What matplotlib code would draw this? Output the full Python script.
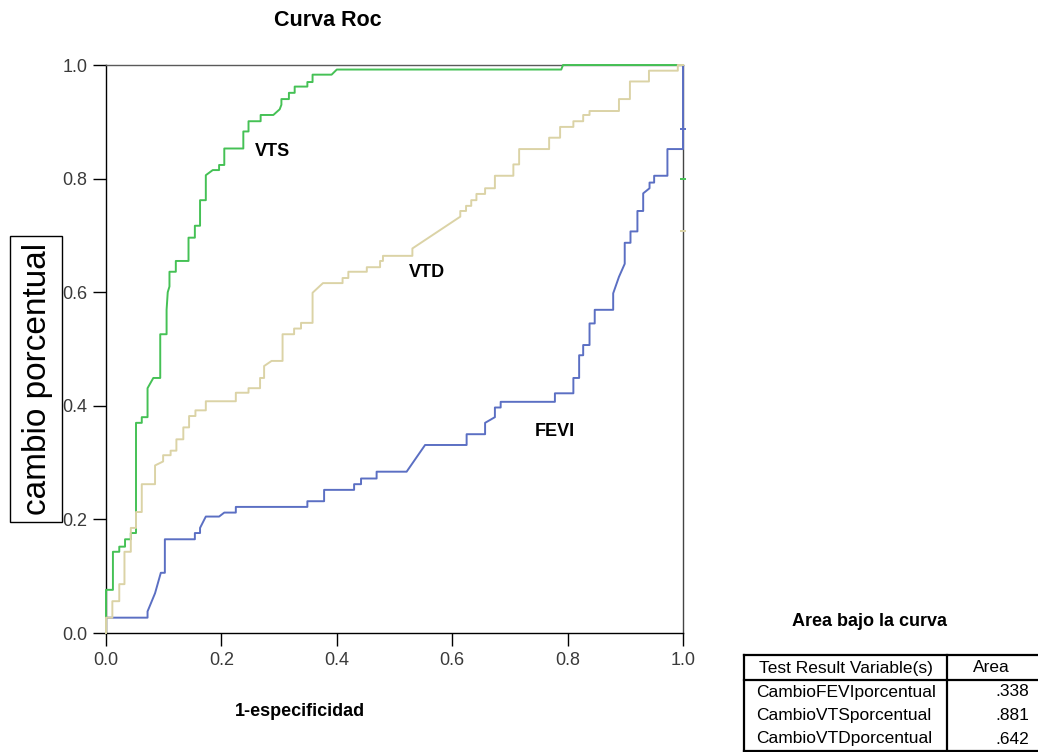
import matplotlib.pyplot as plt
from matplotlib.lines import Line2D
from matplotlib.patches import Rectangle

plt.rcParams['font.family'] = ['Liberation Sans', 'DejaVu Sans']

W, H = 1038, 752

# curvas ROC (1-especificidad, sensibilidad)
fevi_x = [0.0, 0.0, 0.072, 0.072, 0.085, 0.095, 0.102, 0.102, 0.154, 0.154, 0.163, 0.163,
          0.173, 0.196, 0.205, 0.225, 0.225, 0.349, 0.349, 0.378, 0.378, 0.430, 0.430,
          0.442, 0.442, 0.469, 0.469, 0.521, 0.553, 0.625, 0.625, 0.657, 0.657, 0.674,
          0.674, 0.684, 0.684, 0.778, 0.778, 0.810, 0.810, 0.820, 0.820, 0.827, 0.827,
          0.838, 0.838, 0.847, 0.847, 0.879, 0.879, 0.889, 0.899, 0.899, 0.909, 0.909,
          0.921, 0.921, 0.931, 0.931, 0.942, 0.942, 0.950, 0.950, 0.973, 0.973, 1.0, 1.0]
fevi_y = [0.0, 0.027, 0.027, 0.038, 0.070, 0.106, 0.106, 0.165, 0.165, 0.176, 0.176, 0.185,
          0.205, 0.205, 0.212, 0.212, 0.222, 0.222, 0.232, 0.232, 0.252, 0.252, 0.262,
          0.262, 0.272, 0.272, 0.284, 0.284, 0.331, 0.331, 0.350, 0.350, 0.370, 0.380,
          0.397, 0.397, 0.407, 0.407, 0.422, 0.422, 0.449, 0.449, 0.489, 0.489, 0.507,
          0.507, 0.545, 0.545, 0.569, 0.569, 0.598, 0.627, 0.650, 0.687, 0.687, 0.707,
          0.707, 0.743, 0.743, 0.774, 0.783, 0.793, 0.793, 0.805, 0.805, 0.852, 0.852, 1.0]

vts_x = [0.0, 0.0, 0.012, 0.012, 0.023, 0.023, 0.033, 0.033, 0.043, 0.043, 0.052, 0.052,
         0.062, 0.062, 0.072, 0.072, 0.082, 0.094, 0.094, 0.105, 0.105, 0.107, 0.110, 0.110,
         0.121, 0.121, 0.143, 0.143, 0.154, 0.154, 0.163, 0.163, 0.173, 0.173, 0.185, 0.196,
         0.196, 0.205, 0.205, 0.238, 0.238, 0.247, 0.247, 0.268, 0.268, 0.290, 0.301, 0.304,
         0.304, 0.317, 0.317, 0.327, 0.327, 0.349, 0.349, 0.358, 0.358, 0.391, 0.400, 0.789,
         0.792, 1.0]
vts_y = [0.0, 0.076, 0.076, 0.143, 0.143, 0.152, 0.152, 0.165, 0.165, 0.176, 0.176, 0.370,
         0.370, 0.380, 0.380, 0.431, 0.449, 0.449, 0.526, 0.526, 0.569, 0.600, 0.610, 0.636,
         0.636, 0.655, 0.655, 0.696, 0.696, 0.717, 0.717, 0.762, 0.762, 0.806, 0.815, 0.815,
         0.824, 0.824, 0.853, 0.853, 0.883, 0.883, 0.901, 0.901, 0.912, 0.912, 0.922, 0.930,
         0.940, 0.940, 0.951, 0.951, 0.962, 0.962, 0.970, 0.970, 0.983, 0.983, 0.992, 0.992,
         1.0, 1.0]

vtd_x = [0.0, 0.0, 0.011, 0.011, 0.023, 0.023, 0.032, 0.032, 0.043, 0.043, 0.052, 0.052,
         0.062, 0.062, 0.085, 0.085, 0.099, 0.099, 0.112, 0.112, 0.122, 0.122, 0.134, 0.134,
         0.144, 0.144, 0.155, 0.155, 0.173, 0.173, 0.225, 0.225, 0.247, 0.247, 0.267, 0.267,
         0.274, 0.274, 0.287, 0.306, 0.306, 0.326, 0.326, 0.338, 0.338, 0.358, 0.358, 0.376,
         0.410, 0.410, 0.420, 0.420, 0.452, 0.452, 0.475, 0.475, 0.480, 0.480, 0.531, 0.531,
         0.614, 0.614, 0.624, 0.624, 0.633, 0.633, 0.642, 0.642, 0.657, 0.657, 0.674, 0.674,
         0.706, 0.706, 0.716, 0.716, 0.768, 0.768, 0.787, 0.787, 0.810, 0.810, 0.827, 0.827,
         0.838, 0.838, 0.889, 0.889, 0.908, 0.908, 0.941, 0.941, 0.991, 0.991, 1.0]
vtd_y = [0.0, 0.027, 0.027, 0.056, 0.056, 0.086, 0.086, 0.143, 0.143, 0.185, 0.185, 0.213,
         0.213, 0.262, 0.262, 0.295, 0.302, 0.313, 0.313, 0.321, 0.321, 0.341, 0.341, 0.362,
         0.362, 0.382, 0.382, 0.392, 0.392, 0.408, 0.408, 0.423, 0.423, 0.431, 0.431, 0.449,
         0.449, 0.470, 0.479, 0.479, 0.526, 0.526, 0.536, 0.536, 0.546, 0.546, 0.599, 0.616,
         0.616, 0.625, 0.625, 0.636, 0.636, 0.644, 0.644, 0.655, 0.655, 0.664, 0.664, 0.677,
         0.733, 0.743, 0.743, 0.752, 0.752, 0.762, 0.762, 0.773, 0.773, 0.783, 0.783, 0.805,
         0.805, 0.825, 0.825, 0.852, 0.852, 0.872, 0.872, 0.891, 0.891, 0.901, 0.901, 0.912,
         0.912, 0.919, 0.919, 0.940, 0.940, 0.971, 0.971, 0.990, 0.990, 1.0, 1.0]

# marcas sueltas en el borde derecho
edge_y = [0.887, 0.800, 0.707]

table_vars = ['CambioFEVIporcentual', 'CambioVTSporcentual', 'CambioVTDporcentual']
table_area = ['.338', '.881', '.642']

c_fevi = '#5b6fc3'
c_vts = '#45c155'
c_vtd = '#dbd3a6'


def fx(px):
    return px / W


def fy(py):
    return 1 - py / H


fig = plt.figure(figsize=(W / 100, H / 100), dpi=100)
ax = fig.add_axes([fx(106), fy(633), 577 / W, 568 / H])

lw = 1.4
ax.plot(fevi_x, fevi_y, color=c_fevi, lw=lw, clip_on=False, zorder=3)
ax.plot(vts_x, vts_y, color=c_vts, lw=lw, clip_on=False, zorder=3)
ax.plot(vtd_x, vtd_y, color=c_vtd, lw=lw, clip_on=False, zorder=3)
for yv, c in zip(edge_y, [c_fevi, c_vts, c_vtd]):
    ax.plot([1.0], [yv], marker='_', ms=5, mew=1.4, color=c, clip_on=False, zorder=4)

ax.text(0.288, 0.847, 'VTS', fontsize=13, fontweight='bold', ha='center', va='center')
ax.text(0.556, 0.634, 'VTD', fontsize=13, fontweight='bold', ha='center', va='center')
ax.text(0.778, 0.354, 'FEVI', fontsize=13, fontweight='bold', ha='center', va='center')

ax.set_xlim(0, 1)
ax.set_ylim(0, 1)
ticks = [0.0, 0.2, 0.4, 0.6, 0.8, 1.0]
ax.set_xticks(ticks)
ax.set_yticks(ticks)
ax.set_xticklabels([f'{t:.1f}' for t in ticks])
ax.set_yticklabels([f'{t:.1f}' for t in ticks])
ax.tick_params(direction='out', length=9.5, width=1.0, labelsize=13,
               labelcolor='#3a3a3a', pad=4)
for s in ['left', 'bottom']:
    ax.spines[s].set_color('black')
ax.spines['top'].set_color('#5a5a5a')
ax.spines['right'].set_color('#444444')
for s in ax.spines.values():
    s.set_linewidth(1.0)

fig.text(fx(328), fy(20), 'Curva Roc', fontsize=15.5, fontweight='bold', ha='center', va='center')
fig.text(fx(300), fy(712), '1-especificidad', fontsize=13, fontweight='bold',
         ha='center', va='center')

# caja del titulo del eje y (tapa parte de las etiquetas)
fig.add_artist(Rectangle((fx(10), fy(522)), 52 / W, 286 / H, transform=fig.transFigure,
                         fc='white', ec='black', lw=1.0, zorder=5))
fig.text(fx(38), fy(379), 'cambio porcentual', fontsize=24, rotation=90,
         ha='center', va='center', zorder=6)

# tabla "Area bajo la curva"
fig.text(fx(870), fy(622), 'Area bajo la curva', fontsize=13, fontweight='bold',
         ha='center', va='center')
t_left, t_right, t_top, t_head, t_bot, t_div = 744, 1050, 655, 680, 751, 947
tl = 1.6
fig.add_artist(Line2D([fx(t_left), fx(t_right)], [fy(t_top)] * 2, color='black', lw=tl))
fig.add_artist(Line2D([fx(t_left), fx(t_right)], [fy(t_head)] * 2, color='black', lw=tl))
fig.add_artist(Line2D([fx(t_left), fx(t_right)], [fy(t_bot)] * 2, color='black', lw=tl))
fig.add_artist(Line2D([fx(t_left)] * 2, [fy(t_top), fy(t_bot)], color='black', lw=tl))
fig.add_artist(Line2D([fx(t_div)] * 2, [fy(t_top), fy(t_bot)], color='black', lw=tl))
fig.text(fx(846), fy(668), 'Test Result Variable(s)', fontsize=12.5, ha='center', va='center')
fig.text(fx(991), fy(668), 'Area', fontsize=12.5, ha='center', va='center')
for i, (name, area) in enumerate(zip(table_vars, table_area)):
    yy = 692 + i * 23.5
    fig.text(fx(756), fy(yy), name, fontsize=12.5, ha='left', va='center')
    fig.text(fx(1029), fy(yy), area, fontsize=12.5, ha='right', va='center')

fig.savefig('out.png', dpi=100)
